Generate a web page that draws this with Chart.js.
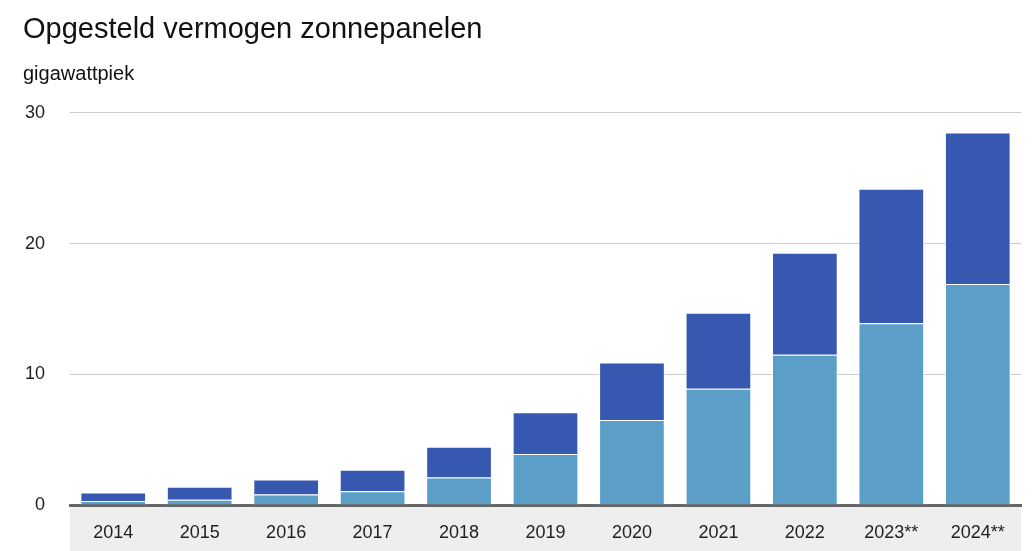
<!DOCTYPE html>
<html>
<head>
<meta charset="utf-8">
<script src="https://cdn.jsdelivr.net/npm/chart.js@4"></script>
<style>
	html, body { margin: 0; padding: 0; background: #fff; }
	#wrap { width: 1033px; height: 551px; }
</style>
</head>
<body>
<div id="wrap"><canvas id="chart"></canvas></div>
<script>
const years = ['2014', '2015', '2016', '2017', '2018', '2019', '2020', '2021', '2022', '2023**', '2024**'];
// lower (light) part of each bar
const lightValues = [0.3, 0.4, 0.8, 1.05, 2.1, 3.9, 6.5, 8.9, 11.5, 13.9, 16.9];
// upper (dark) part stacked on top
const darkValues = [0.65, 1.0, 1.15, 1.65, 2.35, 3.2, 4.4, 5.8, 7.8, 10.3, 11.6];
const yTicks = [0, 10, 20, 30];

const axisBand = {
	id: 'axisBand',
	beforeDraw(chart) {
		const { ctx, chartArea: { left, right, bottom } } = chart;
		ctx.save();
		ctx.fillStyle = '#eeeeee';
		ctx.fillRect(left, bottom, right - left, chart.height - bottom);
		ctx.restore();
	}
}

const options = {
	responsive: true,
	maintainAspectRatio: false,
	animation: false,
	layout: {
		padding: { left: 23, right: 12, top: 0, bottom: 0 }
	},
	plugins: {
		legend: { display: false },
		tooltip: { enabled: false },
		title: {
			display: true,
			text: 'Opgesteld vermogen zonnepanelen',
			align: 'start',
			color: '#111',
			font: { family: 'Liberation Sans', size: 29, weight: 'normal' },
			padding: { top: 13, bottom: 15 }
		},
		subtitle: {
			display: true,
			text: 'gigawattpiek',
			align: 'start',
			color: '#111',
			font: { family: 'Liberation Sans', size: 20, weight: 'normal' },
			padding: { top: 0, bottom: 26 }
		}
	},
	scales: {
		x: {
			stacked: true,
			grid: { display: false },
			border: { display: true, color: '#666', width: 3 },
			ticks: {
				color: '#222',
				padding: 9,
				font: { family: 'Liberation Sans', size: 18 }
			},
			afterFit(scale) { scale.height = 46; }
		},
		y: {
			stacked: true,
			min: 0,
			max: 30,
			afterBuildTicks(scale) { scale.ticks = yTicks.map(v => ({ value: v })); },
			grid: { color: '#cccccc', lineWidth: 1, drawTicks: false },
			border: { display: false },
			ticks: {
				color: '#222',
				padding: 25,
				font: { family: 'Liberation Sans', size: 18 }
			},
			afterFit(scale) { scale.width = 47; }
		}
	}
}

new Chart(document.getElementById('chart'), {
	type: 'bar',
	data: {
		labels: years,
		datasets: [
			{
				label: 'onder',
				data: lightValues,
				backgroundColor: '#5b9ec7',
				borderColor: '#ffffff',
				borderWidth: 1,
				borderSkipped: 'start',
				categoryPercentage: 1,
				barPercentage: 0.76
			},
			{
				label: 'boven',
				data: darkValues,
				backgroundColor: '#3658b1',
				borderColor: '#ffffff',
				borderWidth: 1,
				borderSkipped: 'start',
				categoryPercentage: 1,
				barPercentage: 0.76
			}
		]
	},
	options: options,
	plugins: [axisBand]
});
</script>
</body>
</html>
